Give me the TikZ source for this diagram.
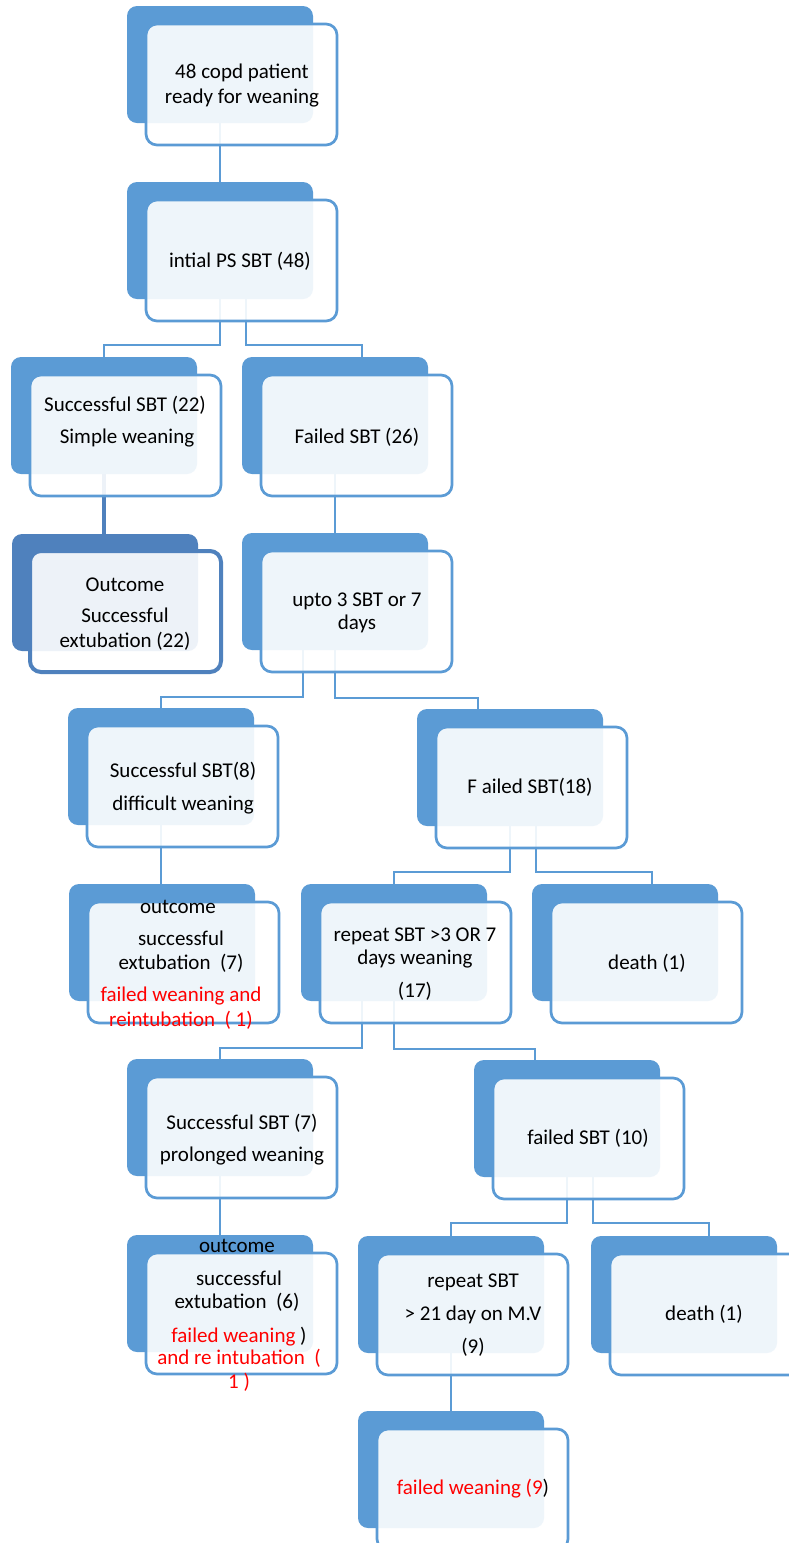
\documentclass[tikz,border=0pt]{standalone}
\usepackage{fontspec}
\setmainfont{Carlito}
\usetikzlibrary{calc}
\definecolor{accent}{RGB}{91,155,213}
\definecolor{accentdk}{RGB}{79,129,189}
\definecolor{redtxt}{RGB}{255,0,0}
\tikzset{
 backbox/.style={fill=accent, draw=none, rounded corners=10pt, minimum width=186pt, minimum height=117pt, anchor=north west, outer sep=0pt, inner sep=0pt},
 frontbox/.style={fill=white, fill opacity=0.9, draw=accent, draw opacity=1, line width=2.7pt, rounded corners=11pt, minimum width=191pt, minimum height=121pt, anchor=north west, outer sep=0pt, inner sep=0pt},
 conn/.style={draw=accent, line width=2.6pt},
 lbl/.style={anchor=base, inner sep=0pt, font=\fontsize{21}{25}\selectfont, text=black},
 rlbl/.style={lbl, text=redtxt},
}
\begin{document}
\begin{tikzpicture}[x=1pt,y=-1pt]
\clip (0,0) rectangle (789,1543);
\fill[white] (0,0) rectangle (789,1543);
% back boxes
\node[backbox] (b1-b) at (127,6) {};
\node[backbox] (b2-b) at (127,182) {};
\node[backbox] (b3-b) at (11,357) {};
\node[backbox] (b4-b) at (242,357) {};
\node[backbox, fill=accentdk] (o22-b) at (12,534) {};
\node[backbox] (upto-b) at (242,533) {};
\node[backbox] (s8-b) at (68,708) {};
\node[backbox] (f18-b) at (417,709) {};
\node[backbox] (o7-b) at (69,884) {};
\node[backbox] (r17-b) at (301,884) {};
\node[backbox] (d1-b) at (532,884) {};
\node[backbox] (s7-b) at (127,1059) {};
\node[backbox] (f10-b) at (474,1060) {};
\node[backbox] (o6-b) at (127,1235) {};
\node[backbox] (r21-b) at (358,1236) {};
\node[backbox] (d2-b) at (591,1236) {};
\node[backbox] (fw9-b) at (358,1411) {};
% connectors
\draw[conn] (b1-b.south) -- (b1-b.south |- b2-b.north);
\draw[conn] (b2-b.south) |- ($(b3-b.north)+(0,-12)$) -- (b3-b.north);
\draw[conn] ([xshift=26pt]b2-b.south) |- ($(b4-b.north)+(27,-12)$) -- ++(0,12);
\draw[draw=accentdk, line width=4.3pt] (b3-b.south) -- (b3-b.south |- o22-b.north);
\draw[conn] (b4-b.south) -- (b4-b.south |- upto-b.north);
\draw[conn] ([xshift=-32pt]upto-b.south) |- ($(s8-b.north)+(0,-11)$) -- (s8-b.north);
\draw[conn] (upto-b.south) |- ($(f18-b.north)+(-32,-11)$) -- ++(0,11);
\draw[conn] (s8-b.south) -- (s8-b.south |- o7-b.north);
\draw[conn] (f18-b.south) |- ($(r17-b.north)+(0,-12)$) -- (r17-b.north);
\draw[conn] ([xshift=26pt]f18-b.south) |- ($(d1-b.north)+(27,-12)$) -- ++(0,12);
\draw[conn] ([xshift=-32pt]r17-b.south) |- ($(s7-b.north)+(0,-11)$) -- (s7-b.north);
\draw[conn] (r17-b.south) |- ($(f10-b.north)+(-32,-11)$) -- ++(0,11);
\draw[conn] (s7-b.south) -- (s7-b.south |- o6-b.north);
\draw[conn] (f10-b.south) |- ($(r21-b.north)+(0,-13)$) -- (r21-b.north);
\draw[conn] ([xshift=26pt]f10-b.south) |- ($(d2-b.north)+(25,-13)$) -- ++(0,13);
\draw[conn] (r21-b.south) -- (r21-b.south |- fw9-b.north);
% front boxes
\foreach \n in {b1,b2,b3,b4,upto,s8,f18,o7,r17,d1,s7,f10,o6,r21,d2,fw9}{
  \node[frontbox] (\n-f) at ($(\n-b.north west)+(19,18)$) {};
}
\node[frontbox, draw=accentdk, line width=4pt] (o22-f) at ($(o22-b.north west)+(18,17)$) {};
% texts
\node[lbl] (t1a) at (242,78) {48 copd patient};
\node[lbl] (t1b) at (242,103) {ready for weaning};
\node[lbl] (t2) at (240,267) {intial PS SBT (48)};
\node[lbl] (t3a) at (125,411) {Successful SBT (22)};
\node[lbl] (t3b) at (127,443) {Simple weaning};
\node[lbl] (t4) at (357,443) {Failed SBT (26)};
\node[lbl] (t22a) at (125,591) {Outcome};
\node[lbl] (t22b) at (125,622) {Successful};
\node[lbl] (t22c) at (125,647) {extubation (22)};
\node[lbl] (tua) at (357,606) {upto 3 SBT or 7};
\node[lbl] (tub) at (357,629) {days};
\node[lbl] (t8a) at (183,777) {Successful SBT(8)};
\node[lbl] (t8b) at (183,810) {difficult weaning};
\node[lbl] (t18) at (530,793) {F ailed SBT(18)};
\node[lbl] (t7a) at (178,913) {outcome};
\node[lbl] (t7b) at (181,945) {successful};
\node[lbl] (t7c) at (181,969) {extubation~~(7)};
\node[rlbl] (t7d) at (181,1001) {failed weaning and};
\node[rlbl] (t7e) at (181,1026) {reintubation~~( 1)};
\node[lbl] (t17a) at (415,941) {repeat SBT >3 OR 7};
\node[lbl] (t17b) at (415,964) {days weaning};
\node[lbl] (t17c) at (415,997) {(17)};
\node[lbl] (td1) at (647,969) {death (1)};
\node[lbl] (ts7a) at (242,1129) {Successful SBT (7)};
\node[lbl] (ts7b) at (242,1161) {prolonged weaning};
\node[lbl] (t10) at (588,1144) {failed SBT (10)};
\node[lbl] (t6a) at (237,1252) {outcome};
\node[lbl] (t6b) at (239,1285) {successful};
\node[lbl] (t6c) at (237,1308) {extubation~~(6)};
\node[lbl] (t6d) at (239,1342) {\textcolor{redtxt}{failed weaning} )};
\node[rlbl] (t6e) at (239,1364) {and re intubation~~(};
\node[rlbl] (t6f) at (239,1388) {1 )};
\node[lbl] (t21a) at (473,1287) {repeat SBT};
\node[lbl] (t21b) at (473,1320) {> 21 day on M.V};
\node[lbl] (t21c) at (473,1353) {(9)};
\node[lbl] (td2) at (704,1320) {death (1)};
\node[lbl] (t9) at (473,1494) {\textcolor{redtxt}{failed weaning (9})};
\end{tikzpicture}
\end{document}
